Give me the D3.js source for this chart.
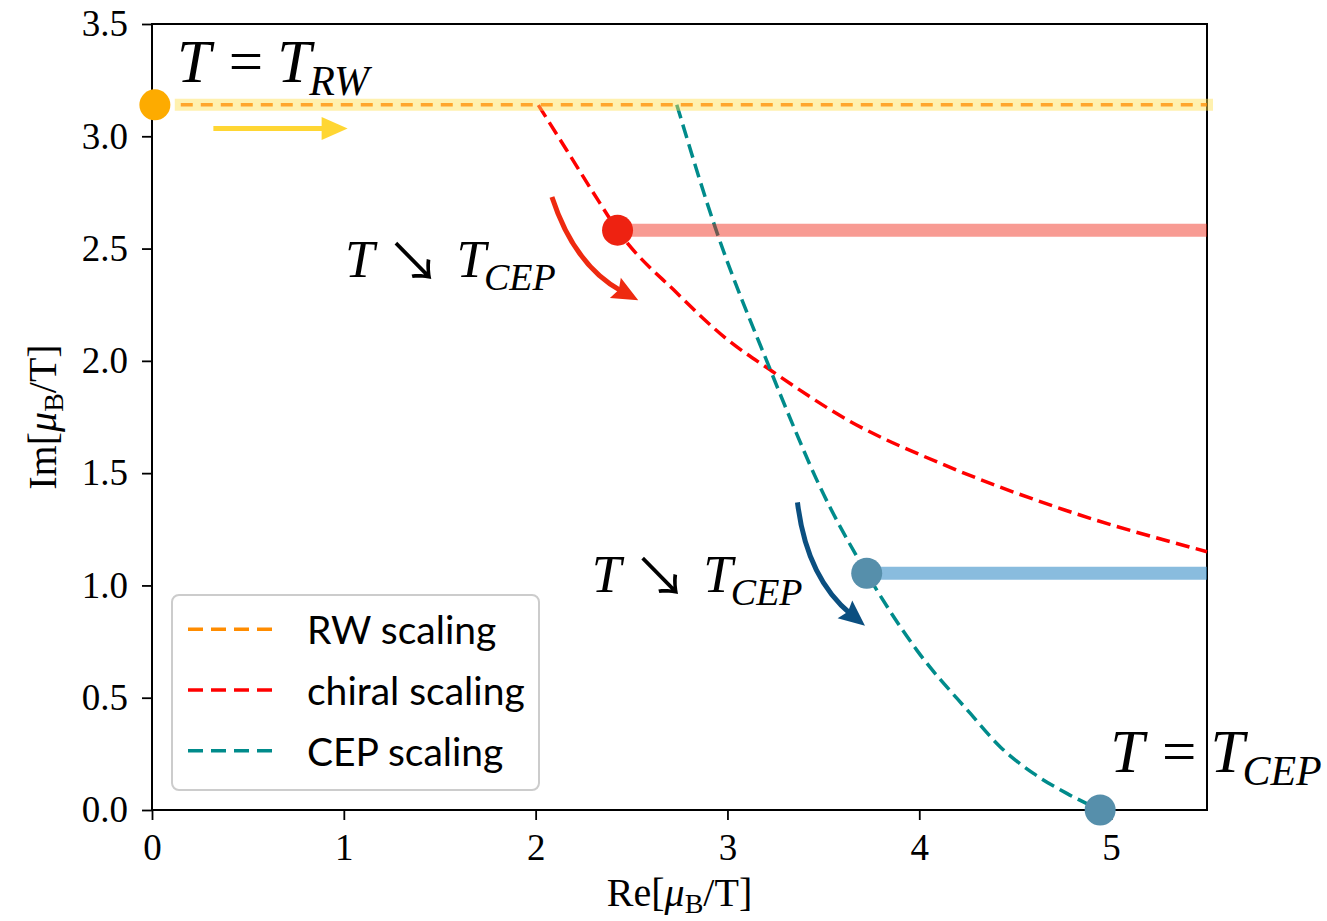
<!DOCTYPE html>
<html>
<head>
<meta charset="utf-8">
<script src="https://cdn.jsdelivr.net/npm/d3@7"></script>
<style>
  body { margin: 0; background: #ffffff; }
  svg { display: block; }
</style>
</head>
<body>
<svg id="chart" width="1327" height="921"></svg>
<script>
// ---- data (complex mu_B/T plane) ----
const xTicks = [0, 1, 2, 3, 4, 5];
const xTickLabels = ["0", "1", "2", "3", "4", "5"];
const yTicks = [0, 0.5, 1, 1.5, 2, 2.5, 3, 3.5];
const yTickLabels = ["0.0", "0.5", "1.0", "1.5", "2.0", "2.5", "3.0", "3.5"];
const legendLabels = ["RW scaling", "chiral scaling", "CEP scaling"];

// Roberge-Weiss line at Im = pi
const rwX = [0.15, 5.5];
const rwY = [3.14, 3.14];

// chiral scaling trajectory
const chiralX = [2.014, 2.162, 2.336, 2.427, 2.739, 3.002, 3.224, 3.628, 4.152, 4.758, 5.5];
const chiralY = [3.139, 2.938, 2.701, 2.582, 2.300, 2.093, 1.959, 1.736, 1.529, 1.336, 1.150];

// CEP scaling trajectory
const cepX = [2.736, 2.941, 3.224, 3.345, 3.466, 3.726, 3.987, 4.265, 4.421, 4.595, 4.769, 4.943];
const cepY = [3.140, 2.582, 1.959, 1.707, 1.469, 1.054, 0.712, 0.431, 0.282, 0.163, 0.074, 0.000];

// singularity markers: RW point, chiral point, CEP-scaling point, CEP
const dotX = [0.015, 2.427, 3.726, 4.943];
const dotY = [3.14, 2.582, 1.054, 0.0];

// cuts running from the markers to the right edge
const cutStartX = [2.427, 3.726];
const cutY = [2.582, 1.054];
const cutEndX = 5.5;

// "temperature decreasing" arrows: start and end in data units
const arrowFromX = [0.32, 2.085, 3.365];
const arrowFromY = [3.035, 2.73, 1.37];
const arrowToX = [1.02, 2.535, 3.717];
const arrowToY = [3.035, 2.27, 0.82];

// ---- styling ----
const W = 1327, H = 921;
const margin = { top: 24, right: 120, bottom: 111, left: 152 };
const serif = "'Liberation Serif', 'Times New Roman', serif";
const sans = "Lato, 'Liberation Sans', sans-serif";
const colRW = "#ff8c00", colChiral = "#ff0000", colCEP = "#008b8b";

const svg = d3.select("#chart");
const x = d3.scaleLinear().domain([0, 5.5]).range([margin.left, W - margin.right]);
const y = d3.scaleLinear().domain([0, 3.5]).range([H - margin.bottom, margin.top]);

// ---- axes ----
const xAxis = d3.axisBottom(x).tickValues(xTicks)
  .tickFormat((d, i) => xTickLabels[i]).tickSize(10).tickPadding(14);
const yAxis = d3.axisLeft(y).tickValues(yTicks)
  .tickFormat((d, i) => yTickLabels[i]).tickSize(10).tickPadding(14);

const gx = svg.append("g").attr("transform", `translate(0,${y(0)})`).call(xAxis);
const gy = svg.append("g").attr("transform", `translate(${x(0)},0)`).call(yAxis);
[gx, gy].forEach(g => {
  g.select(".domain").remove();
  g.selectAll(".tick line").attr("stroke", "#000").attr("stroke-width", 1.8);
  g.selectAll(".tick text").attr("fill", "#000")
    .style("font-family", serif).style("font-size", "37px");
});

// frame
svg.append("rect")
  .attr("x", x(0)).attr("y", y(3.5))
  .attr("width", x(5.5) - x(0)).attr("height", y(0) - y(3.5))
  .attr("fill", "none").attr("stroke", "#000").attr("stroke-width", 2);

// axis titles
function axisTitle(sel, prefix) {
  sel.style("font-family", serif).style("font-size", "40px").attr("fill", "#000");
  sel.append("tspan").text(prefix + "[");
  sel.append("tspan").attr("font-style", "italic").text("μ");
  sel.append("tspan").attr("font-size", "28px").attr("dy", 7).text("B");
  sel.append("tspan").attr("dy", -7).text("/T]");
}
axisTitle(svg.append("text")
  .attr("x", (x(0) + x(5.5)) / 2).attr("y", 906)
  .attr("text-anchor", "middle"), "Re");
axisTitle(svg.append("text")
  .attr("transform", `translate(56,${(y(0) + y(3.5)) / 2}) rotate(-90)`)
  .attr("text-anchor", "middle"), "Im");

// ---- trajectories ----
const line = d3.line().x(d => x(d[0])).y(d => y(d[1])).curve(d3.curveMonotoneX);
const dash = "14,6.5";

svg.append("path")
  .datum(chiralX.map((v, i) => [v, chiralY[i]]))
  .attr("d", line).attr("fill", "none")
  .attr("stroke", colChiral).attr("stroke-width", 3.5).attr("stroke-dasharray", dash);

svg.append("path")
  .datum(cepX.map((v, i) => [v, cepY[i]]))
  .attr("d", line).attr("fill", "none")
  .attr("stroke", colCEP).attr("stroke-width", 3.5).attr("stroke-dasharray", dash);

// translucent cuts
svg.append("line")
  .attr("x1", x(rwX[0])).attr("x2", x(rwX[1]))
  .attr("y1", y(rwY[0])).attr("y2", y(rwY[1]))
  .attr("stroke", "#ffe14d").attr("stroke-opacity", 0.45)
  .attr("stroke-width", 12).attr("stroke-linecap", "square");

const cutColors = ["#f0220f", "#3a8fc8"];
const cutOpacity = [0.45, 0.6];
cutStartX.forEach((sx, i) => {
  svg.append("line")
    .attr("x1", x(sx)).attr("x2", x(cutEndX))
    .attr("y1", y(cutY[i])).attr("y2", y(cutY[i]))
    .attr("stroke", cutColors[i]).attr("stroke-opacity", cutOpacity[i])
    .attr("stroke-width", 13);
});

// RW dashed line on top of its band
svg.append("line")
  .attr("x1", x(rwX[0])).attr("x2", x(rwX[1]))
  .attr("y1", y(rwY[0])).attr("y2", y(rwY[1]))
  .attr("stroke", colRW).attr("stroke-opacity", 0.75)
  .attr("stroke-width", 3.5).attr("stroke-dasharray", "12,8");

// markers
const dotColors = ["#fdab00", "#ee2211", "#568fab", "#568fab"];
svg.selectAll("circle.marker")
  .data(dotX.map((v, i) => [v, dotY[i]]))
  .join("circle").attr("class", "marker")
  .attr("cx", d => x(d[0])).attr("cy", d => y(d[1]))
  .attr("r", 15.5).attr("fill", (d, i) => dotColors[i]);

// ---- arrows ----
const arrowColors = ["#ffd633", "#ee2a10", "#0b4f80"];
const arrowBend = [0, 0.2, 0.2];
function drawArrow(i) {
  const p0 = [x(arrowFromX[i]), y(arrowFromY[i])];
  const p1 = [x(arrowToX[i]), y(arrowToY[i])];
  const dx = p1[0] - p0[0], dy = p1[1] - p0[1];
  const mid = [(p0[0] + p1[0]) / 2, (p0[1] + p1[1]) / 2];
  const c = [mid[0] - arrowBend[i] * dy, mid[1] + arrowBend[i] * dx];
  let ux = p1[0] - c[0], uy = p1[1] - c[1];
  const n = Math.hypot(ux, uy); ux /= n; uy /= n;
  const L = 26, hw = 11.5;
  const e = [p1[0] - ux * L * 0.7, p1[1] - uy * L * 0.7];
  const p = d3.path();
  p.moveTo(p0[0], p0[1]);
  p.quadraticCurveTo(c[0], c[1], e[0], e[1]);
  svg.append("path").attr("d", p.toString()).attr("fill", "none")
    .attr("stroke", arrowColors[i]).attr("stroke-width", 5);
  const b = [p1[0] - ux * L, p1[1] - uy * L];
  const notch = [p1[0] - ux * L * 0.85, p1[1] - uy * L * 0.85];
  const head = [
    p1,
    [b[0] - uy * hw, b[1] + ux * hw],
    i === 0 ? b : notch,
    [b[0] + uy * hw, b[1] - ux * hw]
  ];
  svg.append("path").attr("d", "M" + head.map(q => q.join(",")).join("L") + "Z")
    .attr("fill", arrowColors[i]);
}
arrowFromX.forEach((_, i) => drawArrow(i));

// ---- annotations ----
function eqLabel(px, py, sub) {
  const t = svg.append("text").attr("x", x(px)).attr("y", y(py))
    .style("font-family", serif).style("font-size", "61px").attr("fill", "#000");
  t.append("tspan").attr("font-style", "italic").text("T");
  t.append("tspan").attr("dx", 18).text("=");
  t.append("tspan").attr("dx", 14).attr("font-style", "italic").text("T");
  t.append("tspan").attr("dx", -2).attr("dy", 13).attr("font-size", "42px")
    .attr("font-style", "italic").text(sub);
}
function coolLabel(px, py) {
  const t = svg.append("text").attr("x", x(px)).attr("y", y(py))
    .style("font-family", serif).style("font-size", "53px").attr("fill", "#000");
  t.append("tspan").attr("font-style", "italic").text("T");
  t.append("tspan").attr("dx", 12).style("font-family", "'Noto Sans CJK SC', 'DejaVu Sans', sans-serif")
    .attr("font-size", "54px").attr("dy", 5).text("↘");
  t.append("tspan").attr("dx", 16).attr("dy", -5).attr("font-style", "italic").text("T");
  t.append("tspan").attr("dx", -2).attr("dy", 13).attr("font-size", "38px")
    .attr("font-style", "italic").text("CEP");
}
eqLabel(0.13, 3.243, "RW");
eqLabel(4.995, 0.171, "CEP");
coolLabel(1.006, 2.373);
coolLabel(2.293, 0.972);

// ---- legend ----
const lg = svg.append("g").attr("transform", "translate(172,595)");
lg.append("rect").attr("width", 367).attr("height", 195).attr("rx", 7)
  .attr("fill", "#fff").attr("fill-opacity", 0.8)
  .attr("stroke", "#cccccc").attr("stroke-width", 2);
const legendColors = [colRW, colChiral, colCEP];
legendLabels.forEach((lab, i) => {
  const ly = 34.3 + i * 60.7;
  lg.append("line").attr("x1", 16).attr("x2", 100).attr("y1", ly).attr("y2", ly)
    .attr("stroke", legendColors[i]).attr("stroke-width", 3.5).attr("stroke-dasharray", "15,8");
  lg.append("text").attr("x", 135).attr("y", ly + 15)
    .style("font-family", sans).style("font-size", "39px").attr("fill", "#000").text(lab);
});
</script>
</body>
</html>
